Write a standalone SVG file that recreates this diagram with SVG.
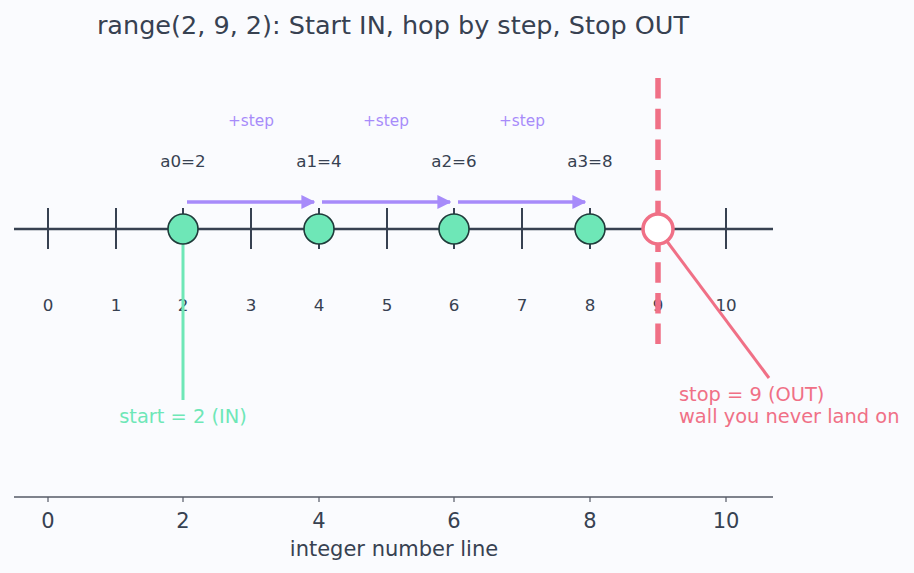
<svg xmlns="http://www.w3.org/2000/svg" width="914" height="573" viewBox="0 0 914 573">
<defs>
<style>
text{font-family:"DejaVu Sans","Liberation Sans",sans-serif}
.dark{fill:#374151}
.tick{stroke:#374151;stroke-width:2}
.lbl{font-size:16.7px;text-anchor:middle}
.step{font-size:15.3px;fill:#a78bfa;text-anchor:middle}
.hop{stroke:#a78bfa;stroke-width:3.5;fill:none;marker-end:url(#ah)}
.pt{fill:#6ee7b7;stroke:#1f3b3a;stroke-width:1.6}
.ax{font-size:21px;fill:#374151;text-anchor:middle}
</style>
<marker id="ah" viewBox="0 0 10 10" refX="9" refY="5" markerWidth="4" markerHeight="4" orient="auto" markerUnits="strokeWidth">
<path d="M0,0 L10,5 L0,10 z" fill="#a78bfa"/>
</marker>
</defs>
<rect width="914" height="573" fill="#fafbfe"/>
<text x="393" y="34" font-size="25.5" class="dark" text-anchor="middle">range(2, 9, 2): Start IN, hop by step, Stop OUT</text>

<g id="numberline">
<line x1="14" y1="229" x2="773" y2="229" stroke="#374151" stroke-width="2.5"/>
<line class="tick" x1="48" y1="208" x2="48" y2="249"/>
<line class="tick" x1="116" y1="208" x2="116" y2="249"/>
<line class="tick" x1="183" y1="208" x2="183" y2="249"/>
<line class="tick" x1="251" y1="208" x2="251" y2="249"/>
<line class="tick" x1="319" y1="208" x2="319" y2="249"/>
<line class="tick" x1="387" y1="208" x2="387" y2="249"/>
<line class="tick" x1="454" y1="208" x2="454" y2="249"/>
<line class="tick" x1="522" y1="208" x2="522" y2="249"/>
<line class="tick" x1="590" y1="208" x2="590" y2="249"/>
<line class="tick" x1="658" y1="208" x2="658" y2="249"/>
<line class="tick" x1="726" y1="208" x2="726" y2="249"/>
<g class="dark" font-size="16.7" text-anchor="middle">
<text x="48" y="311">0</text><text x="116" y="311">1</text><text x="183" y="311">2</text><text x="251" y="311">3</text><text x="319" y="311">4</text><text x="387" y="311">5</text><text x="454" y="311">6</text><text x="522" y="311">7</text><text x="590" y="311">8</text><text x="658" y="311">9</text><text x="726" y="311">10</text>
</g>
</g>

<g id="connectors">
<line class="hop" x1="187" y1="202" x2="314" y2="202"/>
<line class="hop" x1="322" y1="202" x2="450" y2="202"/>
<line class="hop" x1="458" y1="202" x2="585" y2="202"/>
<line x1="183" y1="229" x2="183" y2="400" stroke="#6ee7b7" stroke-width="3"/>
<line x1="658" y1="78" x2="658" y2="346" stroke="#f07086" stroke-width="5.5" stroke-dasharray="20.5,10.2"/>
<line x1="666" y1="240" x2="769" y2="378" stroke="#f07086" stroke-width="3"/>
</g>

<g id="step-labels">
<text class="step" x="251" y="126">+step</text>
<text class="step" x="386" y="126">+step</text>
<text class="step" x="522" y="126">+step</text>
</g>

<g id="a0"><circle class="pt" cx="183" cy="229" r="15"/><text class="lbl dark" x="183" y="167">a0=2</text></g>
<g id="a1"><circle class="pt" cx="319" cy="229" r="15"/><text class="lbl dark" x="319" y="167">a1=4</text></g>
<g id="a2"><circle class="pt" cx="454" cy="229" r="15"/><text class="lbl dark" x="454" y="167">a2=6</text></g>
<g id="a3"><circle class="pt" cx="590" cy="229" r="15"/><text class="lbl dark" x="590" y="167">a3=8</text></g>
<g id="stop"><circle cx="658" cy="229" r="15" fill="#ffffff" stroke="#f07086" stroke-width="3.5"/></g>

<g id="start-label"><text x="183" y="423" font-size="19.4" fill="#6ee7b7" text-anchor="middle">start = 2 (IN)</text></g>
<g id="stop-label"><text x="679" y="401" font-size="19.4" fill="#f07086">stop = 9 (OUT)</text><text x="679" y="423" font-size="19.4" fill="#f07086">wall you never land on</text></g>

<g id="axis">
<line x1="14" y1="497" x2="773" y2="497" stroke="#555a66" stroke-width="1.5"/>
<g stroke="#555a66" stroke-width="1.2">
<line x1="48" y1="497" x2="48" y2="502"/><line x1="183" y1="497" x2="183" y2="502"/><line x1="319" y1="497" x2="319" y2="502"/><line x1="454" y1="497" x2="454" y2="502"/><line x1="590" y1="497" x2="590" y2="502"/><line x1="726" y1="497" x2="726" y2="502"/>
</g>
<text class="ax" x="48" y="528">0</text><text class="ax" x="183" y="528">2</text><text class="ax" x="319" y="528">4</text><text class="ax" x="454" y="528">6</text><text class="ax" x="590" y="528">8</text><text class="ax" x="726" y="528">10</text>
<text class="ax" x="394" y="556">integer number line</text>
</g>
</svg>
